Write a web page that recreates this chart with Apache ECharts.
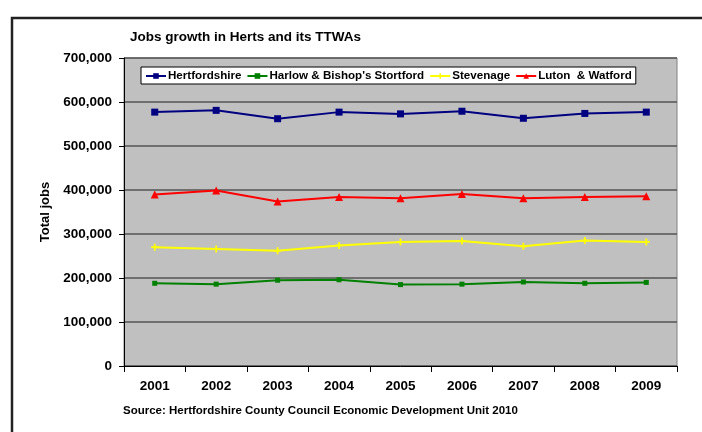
<!DOCTYPE html>
<html><head><meta charset="utf-8">
<script src="https://cdn.jsdelivr.net/npm/echarts@6/dist/echarts.min.js"></script>
<style>html,body{margin:0;padding:0;background:#fff}#c{width:702px;height:432px}</style>
</head><body><div id="c"></div>
<script>
const years = ['2001','2002','2003','2004','2005','2006','2007','2008','2009'];
const herts = [577000,581000,562000,577000,573000,579000,563000,574000,577000];
const harlow = [188000,186000,195000,196000,185000,186000,191000,188000,190000];
const stevenage = [270000,266000,262000,274000,282000,284000,272000,285000,282000];
const luton = [390000,399000,374000,384000,381000,391000,381000,384000,386000];
const yTicks = [0,100000,200000,300000,400000,500000,600000,700000];

const chart = echarts.init(document.getElementById('c'));
const font = 'Liberation Sans, Arial, sans-serif';
const plus = 'path://M3,0H5V3H8V5H5V8H3V5H0V3H3Z';
function ser(name, data, color, symbol, size){
  return {name, type:'line', data, symbol, symbolSize:size, showSymbol:true,
    lineStyle:{color, width:2}, itemStyle:{color, borderWidth:0}, z:3};
}
chart.setOption({
  animation:false,
  textStyle:{fontFamily:font},
  title:{text:'Jobs growth in Herts and its TTWAs', left:125, top:25,
    textStyle:{fontFamily:font, fontWeight:'bold', fontSize:13.5, color:'#000'}},
  grid:{left:124, right:25, top:58, bottom:66, show:true, backgroundColor:'#C0C0C0', borderColor:'#808080', borderWidth:1},
  legend:{left:141, top:67, backgroundColor:'#fff', borderColor:'#000', borderWidth:1,
    padding:[3,4,2,4], itemGap:5, itemWidth:20, itemHeight:7,
    textStyle:{fontFamily:font, fontWeight:'bold', fontSize:11.6, color:'#000', padding:[0,0,0,-3]},
    data:['Hertfordshire','Harlow & Bishop\'s Stortford','Stevenage','Luton  & Watford']},
  xAxis:{type:'category', data:years, boundaryGap:true,
    axisLine:{lineStyle:{color:'#000', width:1}},
    axisTick:{show:true, length:6, lineStyle:{color:'#000'}},
    axisLabel:{fontFamily:font, fontWeight:'bold', fontSize:13.5, color:'#000', margin:13}},
  yAxis:{type:'value', min:0, max:700000, interval:100000,
    name:'Total jobs', nameLocation:'middle', nameGap:67, nameRotate:90,
    nameTextStyle:{fontFamily:font, fontWeight:'bold', fontSize:13, color:'#000'},
    axisLine:{show:true, lineStyle:{color:'#000'}},
    axisTick:{show:true, length:5, lineStyle:{color:'#000'}},
    splitLine:{lineStyle:{color:'#555', width:1.5}},
    axisLabel:{fontFamily:font, fontWeight:'bold', fontSize:13.5, color:'#000', margin:12,
      formatter:v=>v.toLocaleString('en-US')}},
  graphic:[
    {type:'rect', shape:{x:12, y:18, width:740, height:460}, style:{fill:'none', stroke:'#222', lineWidth:2.5}, z:10},
    {type:'text', left:123, top:405, style:{text:'Source: Hertfordshire County Council Economic Development Unit 2010',
      font:'bold 11.5px '+font, fill:'#000'}}
  ],
  series:[
    ser('Hertfordshire', herts, '#000080', 'rect', 7),
    ser('Harlow & Bishop\'s Stortford', harlow, '#008000', 'rect', 5),
    ser('Stevenage', stevenage, '#FFFF00', plus, 7),
    ser('Luton  & Watford', luton, '#FF0000', 'triangle', 8)
  ]
});
</script></body></html>
